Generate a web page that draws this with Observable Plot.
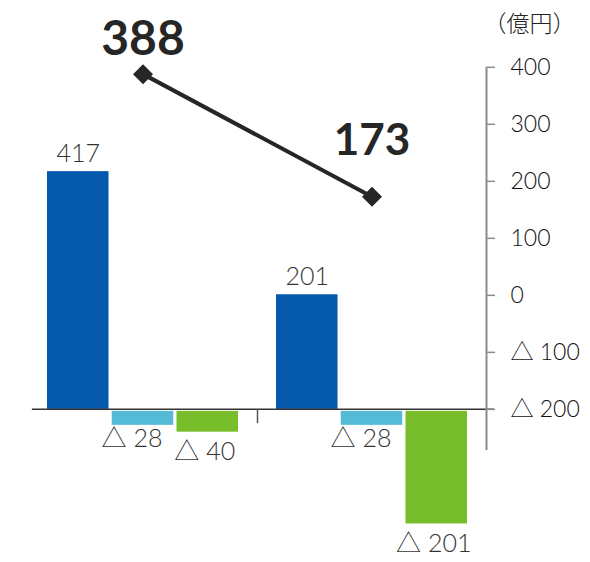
<!DOCTYPE html>
<html><head><meta charset="utf-8">
<script src="https://cdn.jsdelivr.net/npm/d3@7"></script>
<script src="https://cdn.jsdelivr.net/npm/@observablehq/plot@0.6"></script>
<style>body{margin:0;background:#fff}</style>
</head><body><div id="chart"></div>
<script>
// ---- data ----
const groups = ["前期", "当期"];
const series = ["A", "B", "C"];
const seriesA = [417, 201];
const seriesB = [-28, -28];
const seriesC = [-40, -201];
const lineValues = [388, 173];
const axisTicks = [400, 300, 200, 100, 0, -100, -200];
const unitLabel = "（億円）";

// ---- config ----
const colors = ["#0459ac", "#55b9d8", "#78be2b"];
const offset = 200; // right-axis value v sits at bar-scale value v + 200
const fmt = v => v < 0 ? "△ " + (-v) : String(v);
const FONT = "Lato, 'Noto Sans CJK JP', sans-serif";

const gIndex = d3.scaleBand().domain(groups).range([0, groups.length]);
const inner = d3.scaleBand().domain(series).range([0.083, 0.917]).paddingInner(0.05);
const bw = inner.bandwidth();
const valuesBySeries = [seriesA, seriesB, seriesC];

const rows = groups.flatMap((g, i) => series.map((s, j) => ({
  group: g, series: s, value: valuesBySeries[j][i],
  x1: gIndex(g) + inner(s), x2: gIndex(g) + inner(s) + bw
})));
const lineRows = groups.map((g, i) => ({group: g, value: lineValues[i], x: gIndex(g) + inner("B") + bw / 2}));
const mid = d => (d.x1 + d.x2) / 2;

const chart = Plot.plot({
  width: 590, height: 562,
  marginLeft: 28, marginRight: 104, marginTop: 40, marginBottom: 22,
  x: {domain: [0, groups.length], axis: null},
  y: {domain: [-230, 647]},
  color: {domain: series, range: colors},
  style: {fontFamily: FONT, background: "#fff"},
  marks: [
    Plot.rect(rows.filter(d => d.value >= 0), {x1: "x1", x2: "x2", y1: 0, y2: "value", fill: "series"}),
    Plot.rect(rows.filter(d => d.value < 0), {x1: "x1", x2: "x2", y1: 0, y2: "value", fill: "series", insetTop: 2}),
    Plot.ruleY([0], {x1: 0.017, x2: 2.035, stroke: "#333", strokeWidth: 1.5}),
    Plot.ruleX([1], {y1: 0, y2: -25, stroke: "#555", strokeWidth: 1.5}),
    Plot.ruleX([groups.length], {y1: 600, y2: -72, stroke: "#8c8c8c", strokeWidth: 2}),
    Plot.axisY({anchor: "right", ticks: axisTicks.map(v => v + offset), tickSize: 8, tickPadding: 16,
      tickFormat: d => fmt(d - offset), fontSize: 23, fontWeight: 300, stroke: "#8c8c8c", strokeWidth: 1.5, fill: "#111", label: null}),
    Plot.text([unitLabel], {frameAnchor: "top-right", text: d => d, dx: 43, dy: -25, fontSize: 23,
      fontFamily: "'Noto Sans CJK JP', sans-serif", fontWeight: 300, fill: "#222", textAnchor: "middle"}),
    // bar labels
    Plot.text(rows.filter(d => d.series === "A"), {x: mid, y: "value", text: d => fmt(d.value), lineAnchor: "bottom", dy: -10, fontSize: 25, fontWeight: 300, fill: "#333"}),
    Plot.text(rows.filter(d => d.series === "B"), {x: mid, y: "value", text: d => fmt(d.value), lineAnchor: "top", dy: 4, dx: -11, fontSize: 25, fontWeight: 300, fill: "#333"}),
    Plot.text(rows.filter(d => d.series === "C"), {x: mid, y: "value", text: d => fmt(d.value), lineAnchor: "top", dy: 10, dx: -3, fontSize: 25, fontWeight: 300, fill: "#333"}),
    // line
    Plot.line(lineRows, {x: "x", y: d => d.value + offset, stroke: "#262626", strokeWidth: 4}),
    Plot.dot(lineRows, {x: "x", y: d => d.value + offset, symbol: "diamond2", r: 9, fill: "#262626", stroke: null}),
    Plot.text(lineRows, {filter: (d, i) => i === 0, x: "x", y: d => d.value + offset, text: d => String(d.value),
      lineAnchor: "bottom", dy: -19, fontSize: 48, fontWeight: "bold", fill: "#262626"}),
    Plot.text(lineRows, {filter: (d, i) => i === 1, x: "x", y: d => d.value + offset, text: d => String(d.value),
      lineAnchor: "bottom", dy: -42, fontSize: 44, fontWeight: "bold", fill: "#262626"})
  ]
});
document.getElementById("chart").append(chart);
</script>
</body></html>
